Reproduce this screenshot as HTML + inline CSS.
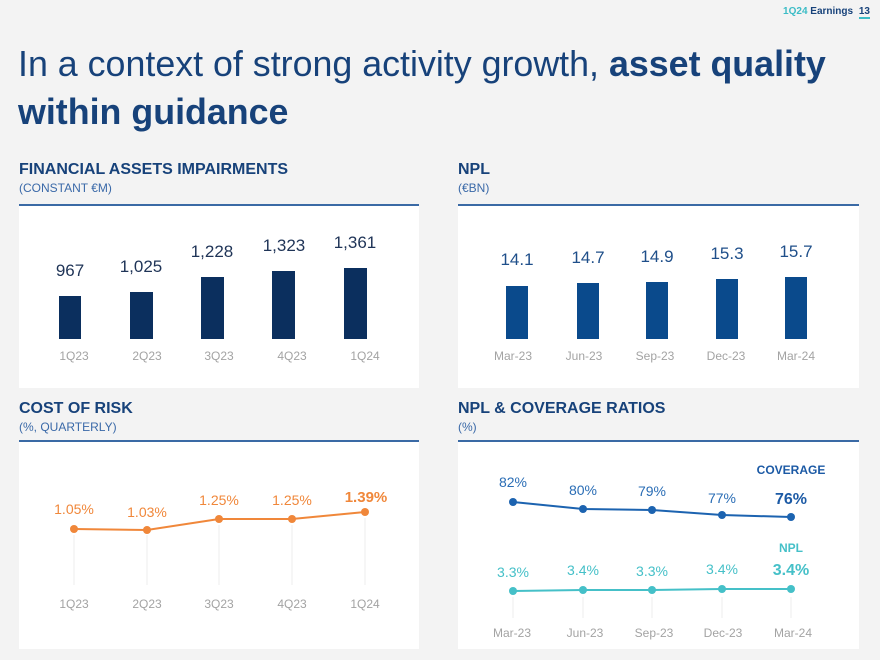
<!DOCTYPE html>
<html><head><meta charset="utf-8"><style>
body{margin:0;width:880px;height:660px;background:#f3f3f3;font-family:"Liberation Sans",sans-serif;position:relative;overflow:hidden}
.a{position:absolute;white-space:nowrap}
.h{font-weight:bold;color:#17427a;font-size:16px}
.s{color:#3a69a8;font-size:12px}
.p{position:absolute;background:#fff}
.ln{position:absolute;height:1.5px;background:#3a6aa5}
</style></head><body>
<div class="a" style="right:10px;top:6px;font-size:10px;font-weight:bold"><span style="color:#3bbcc6">1Q24</span> <span style="color:#17427a">Earnings</span> <span style="color:#17427a;border-bottom:2px solid #3bbcc6;margin-left:3px">13</span></div>
<div class="a" style="left:18px;top:40px;font-size:35.8px;color:#17427a;line-height:48px">In a context of strong activity growth, <b>asset quality</b><br><b>within guidance</b></div>

<div class="a h" style="left:19px;top:161px">FINANCIAL ASSETS IMPAIRMENTS</div>
<div class="a s" style="left:19px;top:181px">(CONSTANT €M)</div>
<div class="a h" style="left:458px;top:161px">NPL</div>
<div class="a s" style="left:458px;top:181px">(€BN)</div>
<div class="a h" style="left:19px;top:400px">COST OF RISK</div>
<div class="a s" style="left:19px;top:420px">(%, QUARTERLY)</div>
<div class="a h" style="left:458px;top:400px">NPL &amp; COVERAGE RATIOS</div>
<div class="a s" style="left:458px;top:420px">(%)</div>

<div class="p" style="left:19px;top:205px;width:400px;height:183px"></div>
<div class="p" style="left:458px;top:205px;width:401px;height:183px"></div>
<div class="p" style="left:19px;top:441px;width:400px;height:208px"></div>
<div class="p" style="left:458px;top:441px;width:401px;height:208px"></div>
<div class="ln" style="left:19px;top:204px;width:400px"></div>
<div class="ln" style="left:458px;top:204px;width:401px"></div>
<div class="ln" style="left:19px;top:440px;width:400px"></div>
<div class="ln" style="left:458px;top:440px;width:401px"></div>

<svg class="a" style="left:0;top:0" width="880" height="660" font-family="Liberation Sans, sans-serif">
<g fill="#0b2f5e">
<rect x="59" y="296" width="22" height="43"/><rect x="130" y="292" width="23" height="47"/><rect x="201" y="277" width="23" height="62"/><rect x="272" y="271" width="23" height="68"/><rect x="344" y="268" width="23" height="71"/>
</g>
<g fill="#1f3457" font-size="17" text-anchor="middle">
<text x="70" y="276">967</text><text x="141" y="272">1,025</text><text x="212" y="257">1,228</text><text x="284" y="251">1,323</text><text x="355" y="248">1,361</text>
</g>
<g fill="#0a4a8c">
<rect x="506" y="286" width="22" height="53"/><rect x="577" y="283" width="22" height="56"/><rect x="646" y="282" width="22" height="57"/><rect x="716" y="279" width="22" height="60"/><rect x="785" y="277" width="22" height="62"/>
</g>
<g fill="#1f4f8a" font-size="17" text-anchor="middle">
<text x="517" y="265">14.1</text><text x="588" y="263">14.7</text><text x="657" y="262">14.9</text><text x="727" y="259">15.3</text><text x="796" y="257">15.7</text>
</g>
<g fill="#a3a3a3" font-size="12" text-anchor="middle">
<text x="74" y="360">1Q23</text><text x="147" y="360">2Q23</text><text x="219" y="360">3Q23</text><text x="292" y="360">4Q23</text><text x="365" y="360">1Q24</text>
<text x="513" y="360">Mar-23</text><text x="584" y="360">Jun-23</text><text x="655" y="360">Sep-23</text><text x="726" y="360">Dec-23</text><text x="796" y="360">Mar-24</text>
<text x="74" y="608">1Q23</text><text x="147" y="608">2Q23</text><text x="219" y="608">3Q23</text><text x="292" y="608">4Q23</text><text x="365" y="608">1Q24</text>
<text x="512" y="637">Mar-23</text><text x="585" y="637">Jun-23</text><text x="654" y="637">Sep-23</text><text x="723" y="637">Dec-23</text><text x="793" y="637">Mar-24</text>
</g>
<g stroke="#ececec" stroke-width="1">
<line x1="74" y1="535" x2="74" y2="585"/><line x1="147" y1="535" x2="147" y2="585"/><line x1="219" y1="525" x2="219" y2="585"/><line x1="292" y1="525" x2="292" y2="585"/><line x1="365" y1="518" x2="365" y2="585"/>
<line x1="513" y1="597" x2="513" y2="618"/><line x1="583" y1="597" x2="583" y2="618"/><line x1="652" y1="597" x2="652" y2="618"/><line x1="722" y1="597" x2="722" y2="618"/><line x1="791" y1="597" x2="791" y2="618"/>
</g>
<polyline points="74,529 147,530 219,519 292,519 365,512" fill="none" stroke="#f0873a" stroke-width="2"/>
<g fill="#f0873a"><circle cx="74" cy="529" r="4"/><circle cx="147" cy="530" r="4"/><circle cx="219" cy="519" r="4"/><circle cx="292" cy="519" r="4"/><circle cx="365" cy="512" r="4"/></g>
<g fill="#f0873a" font-size="14" text-anchor="middle">
<text x="74" y="514">1.05%</text><text x="147" y="517">1.03%</text><text x="219" y="505">1.25%</text><text x="292" y="505">1.25%</text><text x="366" y="502" font-weight="bold" font-size="15">1.39%</text>
</g>
<polyline points="513,502 583,509 652,510 722,515 791,517" fill="none" stroke="#1c63b0" stroke-width="2"/>
<g fill="#1c63b0"><circle cx="513" cy="502" r="4"/><circle cx="583" cy="509" r="4"/><circle cx="652" cy="510" r="4"/><circle cx="722" cy="515" r="4"/><circle cx="791" cy="517" r="4"/></g>
<g fill="#2a6db5" font-size="14" text-anchor="middle">
<text x="513" y="487">82%</text><text x="583" y="495">80%</text><text x="652" y="496">79%</text><text x="722" y="503">77%</text><text x="791" y="504" font-weight="bold" font-size="16" fill="#1c5aa5">76%</text>
<text x="791" y="474" font-weight="bold" font-size="12" fill="#1c5aa5">COVERAGE</text>
</g>
<polyline points="513,591 583,590 652,590 722,589 791,589" fill="none" stroke="#45c0c8" stroke-width="2"/>
<g fill="#45c0c8"><circle cx="513" cy="591" r="4"/><circle cx="583" cy="590" r="4"/><circle cx="652" cy="590" r="4"/><circle cx="722" cy="589" r="4"/><circle cx="791" cy="589" r="4"/></g>
<g fill="#45c0c8" font-size="14" text-anchor="middle">
<text x="513" y="577">3.3%</text><text x="583" y="575">3.4%</text><text x="652" y="576">3.3%</text><text x="722" y="574">3.4%</text><text x="791" y="575" font-weight="bold" font-size="16">3.4%</text>
<text x="791" y="552" font-weight="bold" font-size="12">NPL</text>
</g>
</svg>
</body></html>
